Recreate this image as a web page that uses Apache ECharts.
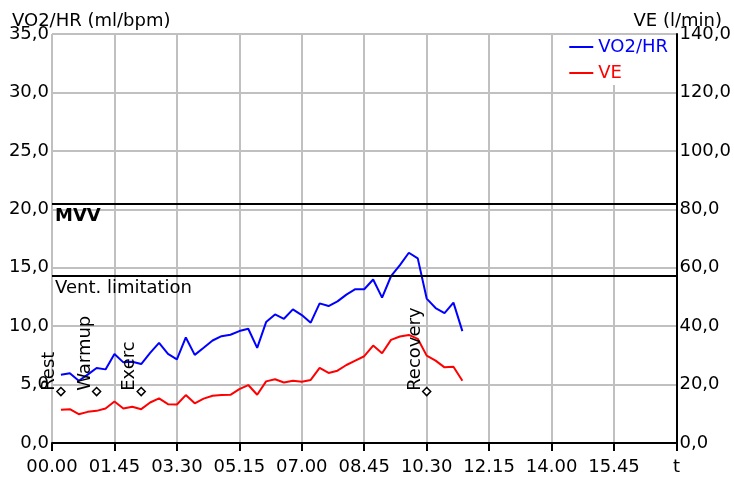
<!DOCTYPE html>
<html>
<head>
<meta charset="utf-8">
<script src="https://cdn.jsdelivr.net/npm/echarts@6/dist/echarts.min.js"></script>
<style>
html,body{margin:0;padding:0;background:#fff;}
#c{width:734px;height:480px;}
</style>
</head>
<body>
<div id="c"></div>
<script>
// time in seconds
var times = [15,30,45,60,75,90,105,120,135,150,165,180,195,210,225,240,255,270,285,300,315,330,345,360,375,390,405,420,435,450,465,480,495,510,525,540,555,570,585,600,615,630,645,660,675,690];
var vo2hr = [5.85,5.96,5.33,5.85,6.42,6.3,7.62,6.9,6.96,6.76,7.71,8.57,7.62,7.16,9.03,7.54,8.15,8.77,9.14,9.26,9.58,9.78,8.14,10.35,11.0,10.63,11.44,10.95,10.3,11.95,11.72,12.12,12.7,13.16,13.16,13.99,12.44,14.27,15.22,16.28,15.8,12.36,11.55,11.12,12.01,9.57];
var ve = [11.35,11.58,9.86,10.66,11.0,11.8,14.2,11.8,12.38,11.58,13.87,15.25,13.3,13.18,16.4,13.6,15.2,16.17,16.4,16.5,18.47,19.84,16.5,21.1,21.8,20.7,21.3,21.0,21.6,25.7,23.97,24.76,26.7,28.2,29.7,33.36,30.7,35.3,36.46,37.0,35.66,29.9,28.2,25.9,26.1,21.3];
var phaseNames = ['Rest','Warmup','Exerc','Recovery'];
var phaseTimes = [15,75,150,630];
var phaseLevel = 4.4;
var mvv = 82;
var ventLimit = 57.4;
var xTickLabels = ['00.00','01.45','03.30','05.15','07.00','08.45','10.30','12.15','14.00','15.45','t'];
var xInterval = 105, xMax = 1050;

var FONT = 'DejaVu Sans';
function pair(xs, ys){ return xs.map(function(x,i){return [x, ys[i]];}); }
function fmtNum(v){ return v.toFixed(1).replace('.', ','); }

var chart = echarts.init(document.getElementById('c'), null, {renderer:'canvas'});
chart.setOption({
  animation:false,
  textStyle:{fontFamily:FONT},
  title:[
    {text:'VO2/HR (ml/bpm)', left:12, top:11, padding:0, textStyle:{fontSize:18, fontWeight:'normal', color:'#000', fontFamily:FONT, lineHeight:20}},
    {text:'VE (l/min)', right:12, top:11, padding:0, textStyle:{fontSize:18, fontWeight:'normal', color:'#000', fontFamily:FONT, lineHeight:20}}
  ],
  legend:{
    orient:'vertical', right:62, top:35, padding:[2,4,2,6],
    backgroundColor:'#fff', icon:'rect', itemWidth:24, itemHeight:2, itemGap:6, itemTextGap:7,
    data:[{name:'VO2/HR', textStyle:{color:'#0000ff'}},{name:'VE', textStyle:{color:'#ff0000'}}],
    textStyle:{fontSize:18, fontFamily:FONT, lineHeight:20}
  },
  grid:{left:52, right:56, top:34, bottom:37, containLabel:false},
  xAxis:{
    type:'value', min:0, max:xMax, interval:xInterval,
    axisLine:{show:true, lineStyle:{color:'#000', width:2}},
    axisTick:{show:true, length:8, lineStyle:{color:'#000', width:2}},
    axisLabel:{fontSize:18, color:'#000', fontFamily:FONT, margin:15,
      formatter:function(v){ var i = Math.round(v/xInterval); return xTickLabels[i]; }},
    splitLine:{show:true, lineStyle:{color:'#c0c0c0', width:2}}
  },
  yAxis:[
    {type:'value', min:0, max:35, interval:5, position:'left',
      axisLine:{show:false}, axisTick:{show:false},
      axisLabel:{fontSize:18, color:'#000', fontFamily:FONT, margin:3, formatter:fmtNum},
      splitLine:{show:true, lineStyle:{color:'#c0c0c0', width:2}}},
    {type:'value', min:0, max:140, interval:20, position:'right',
      axisLine:{show:true, lineStyle:{color:'#000', width:2}}, axisTick:{show:false},
      axisLabel:{fontSize:18, color:'#000', fontFamily:FONT, margin:3, formatter:fmtNum},
      splitLine:{show:false}}
  ],
  series:[
    {name:'VO2/HR', type:'line', yAxisIndex:0, data:pair(times, vo2hr), symbol:'none', showSymbol:false,
      lineStyle:{color:'#0000ff', width:2}, itemStyle:{color:'#0000ff'}, z:3},
    {name:'VE', type:'line', yAxisIndex:1, data:pair(times, ve), symbol:'none', showSymbol:false,
      lineStyle:{color:'#ff0000', width:2}, itemStyle:{color:'#ff0000'}, z:3,
      markLine:{silent:true, symbol:['none','none'],
        lineStyle:{color:'#000', type:'solid', width:2},
        label:{position:'insideStartBottom', fontSize:18, color:'#000', fontFamily:FONT, distance:[3,4]},
        data:[
          {yAxis:mvv, label:{formatter:'MVV', fontWeight:'bold'}},
          {yAxis:ventLimit, label:{formatter:'Vent. limitation'}}
        ]}
    },
    {name:'phases', type:'scatter', yAxisIndex:0,
      data:phaseTimes.map(function(t,i){return [t, phaseLevel, phaseNames[i]];}),
      symbol:'diamond', symbolSize:8,
      itemStyle:{color:'#fff', borderColor:'#000', borderWidth:1.5, opacity:1},
      label:{show:true, formatter:function(p){return p.data[2];}, rotate:90, position:[2,4],
        align:'left', verticalAlign:'bottom', fontSize:18, color:'#000', opacity:1, fontFamily:FONT},
      z:4}
  ]
});
</script>
</body>
</html>
